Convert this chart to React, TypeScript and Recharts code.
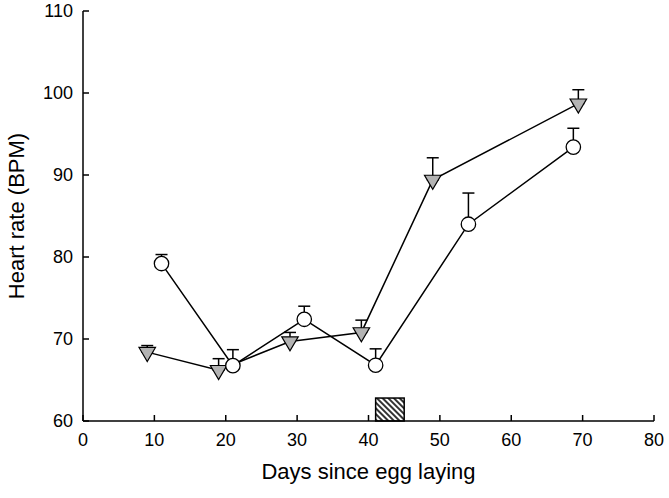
import React from 'react';
import { LineChart, Line, XAxis, YAxis, ErrorBar, ReferenceArea } from 'recharts';

// Open circles series
const circleDays = [11, 21, 31, 41, 54, 68.7];
const circleHR = [79.2, 66.75, 72.4, 66.8, 84.0, 93.4];
const circleErr = [1.1, 1.95, 1.6, 2.0, 3.8, 2.3];

// Grey triangles series
const triDays = [9, 19, 29, 39, 49, 69.4];
const triHR = [68.4, 66.2, 69.7, 70.8, 89.4, 98.7];
const triErr = [0.8, 1.4, 1.1, 1.5, 2.7, 1.7];

// Hatched box on the x axis
const boxDays = [41, 45];
const boxTop = 62.8;

const xTicks = [0, 10, 20, 30, 40, 50, 60, 70, 80];
const yTicks = [60, 70, 80, 90, 100, 110];

const circleData = circleDays.map((d, i) => ({ day: d, hr: circleHR[i], err: [0, circleErr[i]] }));
const triData = triDays.map((d, i) => ({ day: d, hr: triHR[i], err: [0, triErr[i]] }));

const FONT = "Arial, 'Liberation Sans', sans-serif";

const CircleDot = (props: any) => {
  const { cx, cy, index } = props;
  if (cx == null || cy == null) return null;
  return <circle key={`c${index}`} cx={cx} cy={cy} r={7.2} fill="#fff" stroke="#000" strokeWidth={1.3} />;
};

const TriDot = (props: any) => {
  const { cx, cy, index } = props;
  if (cx == null || cy == null) return null;
  const h = 14;
  const w = 16.5;
  const pts = `${cx - w / 2},${cy - h / 3} ${cx + w / 2},${cy - h / 3} ${cx},${cy + (2 * h) / 3}`;
  return <polygon key={`t${index}`} points={pts} fill="#b3b3b3" stroke="#000" strokeWidth={1.2} strokeLinejoin="miter" />;
};

const HatchBox = (props: any) => {
  const { x, y, width, height } = props;
  return (
    <g>
      <defs>
        <pattern id="hatch" patternUnits="userSpaceOnUse" width={4} height={4} patternTransform="rotate(-45)">
          <rect x={0} y={0} width={4} height={4} fill="#fff" />
          <line x1={1} y1={0} x2={1} y2={4} stroke="#000" strokeWidth={1.6} />
        </pattern>
      </defs>
      <rect x={x} y={y} width={width} height={height} fill="url(#hatch)" stroke="#000" strokeWidth={1.5} />
    </g>
  );
};

export default function App() {
  return (
    <div style={{ position: 'absolute', left: 0, top: 0, width: 669, height: 498, background: '#fff' }}>
      <LineChart
        width={669}
        height={498}
        margin={{ top: 11, right: 15, bottom: 17, left: 0 }}
        style={{ fontFamily: FONT }}
      >
        <XAxis
          dataKey="day"
          type="number"
          domain={[0, 80]}
          ticks={xTicks}
          interval={0}
          allowDataOverflow
          height={60}
          axisLine={{ stroke: '#000', strokeWidth: 1.5 }}
          tickLine={{ stroke: '#000', strokeWidth: 1.5 }}
          tickSize={-6}
          tickMargin={18}
          tick={{ fill: '#000', fontSize: 18, fontFamily: FONT }}
          label={{ value: 'Days since egg laying', position: 'insideBottom', offset: 2, fill: '#000', fontSize: 22, fontFamily: FONT }}
        />
        <YAxis
          type="number"
          domain={[60, 110]}
          ticks={yTicks}
          interval={0}
          allowDataOverflow
          width={83}
          axisLine={{ stroke: '#000', strokeWidth: 1.5 }}
          tickLine={{ stroke: '#000', strokeWidth: 1.5 }}
          tickSize={-6}
          tickMargin={16}
          tick={{ fill: '#000', fontSize: 18, fontFamily: FONT }}
          label={{ value: 'Heart rate (BPM)', angle: -90, position: 'insideLeft', offset: 16, fill: '#000', fontSize: 22, fontFamily: FONT, style: { textAnchor: 'middle' } }}
        />
        <ReferenceArea x1={boxDays[0]} x2={boxDays[1]} y1={60} y2={boxTop} shape={HatchBox} ifOverflow="visible" />
        <Line
          data={triData}
          dataKey="hr"
          type="linear"
          stroke="#000"
          strokeWidth={1.5}
          dot={false}
          activeDot={false}
          isAnimationActive={false}
        >
          <ErrorBar dataKey="err" direction="y" width={6} stroke="#000" strokeWidth={1.5} />
        </Line>
        <Line
          data={circleData}
          dataKey="hr"
          type="linear"
          stroke="#000"
          strokeWidth={1.5}
          dot={false}
          activeDot={false}
          isAnimationActive={false}
        >
          <ErrorBar dataKey="err" direction="y" width={6} stroke="#000" strokeWidth={1.5} />
        </Line>
        <Line
          data={triData}
          dataKey="hr"
          type="linear"
          stroke="none"
          dot={TriDot}
          activeDot={false}
          legendType="none"
          isAnimationActive={false}
        />
        <Line
          data={circleData}
          dataKey="hr"
          type="linear"
          stroke="none"
          dot={CircleDot}
          activeDot={false}
          legendType="none"
          isAnimationActive={false}
        />
      </LineChart>
    </div>
  );
}
